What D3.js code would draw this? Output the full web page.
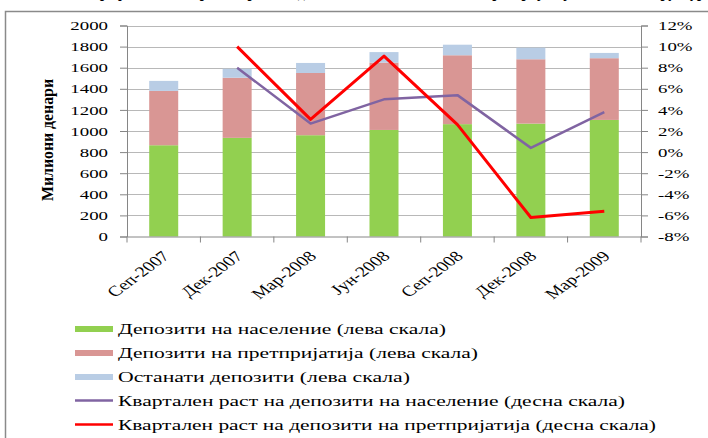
<!DOCTYPE html>
<html><head><meta charset="utf-8">
<script src="https://cdn.jsdelivr.net/npm/d3@7"></script>
<style>
body{margin:0;background:#fff}
svg{display:block}
text{font-family:"Liberation Serif","Times New Roman",serif;fill:#000}
</style>
</head><body>
<svg id="c" width="708" height="438"></svg>
<script>
const categories = ["Сеп-2007","Дек-2007","Мар-2008","Јун-2008","Сеп-2008","Дек-2008","Мар-2009"];
const households = [865, 935, 960, 1010, 1065, 1070, 1105];
const enterprises = [515, 570, 590, 638, 653, 610, 585];
const otherDeposits = [95, 85, 95, 100, 100, 110, 50];
const householdGrowth = [null, 8.0, 2.7, 5.0, 5.4, 0.4, 3.8];
const enterpriseGrowth = [null, 10.0, 3.1, 9.1, 2.6, -6.2, -5.6];
const leftTicks = d3.range(0, 2001, 200);
const rightTicks = d3.range(-8, 13, 2);
const legendLabels = [
  "Депозити на население (лева скала)",
  "Депозити на претпријатија (лева скала)",
  "Останати депозити (лева скала)",
  "Квартален раст на депозити на население (десна скала)",
  "Квартален раст на депозити на претпријатија (десна скала)"
];
const titleText = "Графикон 6: Квартален раст на депозитите на населението и претпријатијата и нивна структура";

const colors = {green:"#92D050", pink:"#D99694", blue:"#B9CDE5", purple:"#8064A2", red:"#FF0000"};
const SX = 1.45;

const svg = d3.select("#c");
const L = 127, R = 641, T = 25.5, B = 236.5;

// frame
svg.append("rect").attr("x",5.5).attr("y",11.5).attr("width",720).attr("height",440)
  .attr("fill","none").attr("stroke","#8a8a8a").attr("stroke-width",1.5);

// clipped title (cut off at top edge, as in the source)
svg.append("text").attr("x",712).attr("y",-3).attr("text-anchor","end")
  .attr("font-size",19).attr("font-weight","bold").attr("textLength",620)
  .attr("lengthAdjust","spacingAndGlyphs").text(titleText);

const x = d3.scaleBand().domain(categories).range([L,R]).paddingInner(0.605).paddingOuter(0.3025);
const y = d3.scaleLinear().domain([0,2000]).range([B,T]);
const y2 = d3.scaleLinear().domain([-8,12]).range([B,T]);

// gridlines
svg.append("g").selectAll("line").data(leftTicks.slice(1)).join("line")
  .attr("x1",L).attr("x2",R).attr("y1",d=>Math.round(y(d))+0.5).attr("y2",d=>Math.round(y(d))+0.5)
  .attr("stroke","#b8b8b8").attr("stroke-width",1);

// bars
const rows = categories.map((c,i)=>({cat:c, h:households[i], e:enterprises[i], o:otherDeposits[i]}));
const stack = d3.stack().keys(["h","e","o"])(rows);
const fill = {h:colors.green, e:colors.pink, o:colors.blue};
svg.append("g").selectAll("g").data(stack).join("g").attr("fill",d=>fill[d.key])
  .selectAll("rect").data(d=>d).join("rect")
  .attr("x",d=>x(d.data.cat)).attr("width",x.bandwidth())
  .attr("y",d=>y(d[1])).attr("height",d=>y(d[0])-y(d[1]));

// axes
function styleAxis(g){
  g.select(".domain").attr("stroke","#868686");
  g.selectAll(".tick line").attr("stroke","#868686");
}
const yAxis = svg.append("g").attr("transform",`translate(${L},0)`)
  .call(d3.axisLeft(y).tickValues(leftTicks).tickSizeOuter(0).tickSize(7).tickFormat(d3.format("d")));
styleAxis(yAxis);
yAxis.selectAll("text").attr("font-size",13).attr("font-family","Liberation Serif")
  .attr("x",-19/SX).attr("transform",`scale(${SX},1)`).attr("fill","#000");

const y2Axis = svg.append("g").attr("transform",`translate(${R},0)`)
  .call(d3.axisRight(y2).tickValues(rightTicks).tickSizeOuter(0).tickSize(7).tickFormat(d=>d+"%"));
styleAxis(y2Axis);
y2Axis.selectAll("text").attr("font-size",13).attr("font-family","Liberation Serif")
  .attr("x",17/SX).attr("transform",`scale(${SX},1)`).attr("fill","#000");

const xAxis = svg.append("g").attr("transform",`translate(0,${B})`)
  .call(d3.axisBottom(x).tickSize(0).tickSizeOuter(0));
styleAxis(xAxis);
xAxis.attr("text-anchor",null);
xAxis.selectAll(".tick line").remove();
// category boundary ticks
const bounds = d3.range(categories.length+1).map(i=>L + i*x.step());
xAxis.selectAll(".btick").data(bounds).join("line").attr("class","btick")
  .attr("x1",d=>d).attr("x2",d=>d).attr("y1",0).attr("y2",6).attr("stroke","#868686");
xAxis.selectAll(".tick text")
  .attr("font-size",14.5).attr("font-family","Liberation Serif").attr("fill","#000")
  .style("text-anchor","end").attr("x",0).attr("y",0).attr("dy","0.35em")
  .attr("transform",`translate(2,17) scale(1.36,1) rotate(-45)`);

// lines
const cx = c => x(c) + x.bandwidth()/2;
const lineGen = vals => d3.line().defined((d,i)=>vals[i]!==null)
  .x((d,i)=>cx(categories[i])).y((d,i)=>y2(vals[i]))(vals);
svg.append("path").attr("d",lineGen(householdGrowth)).attr("fill","none")
  .attr("stroke",colors.purple).attr("stroke-width",2.5).attr("stroke-linejoin","round");
svg.append("path").attr("d",lineGen(enterpriseGrowth)).attr("fill","none")
  .attr("stroke",colors.red).attr("stroke-width",3).attr("stroke-linejoin","round");

// y title
svg.append("text").attr("transform",`translate(47,140) scale(1.35,1) rotate(-90)`)
  .attr("text-anchor","middle").attr("dy","0.35em").attr("font-size",13).attr("font-weight","bold")
  .attr("textLength",122).attr("lengthAdjust","spacingAndGlyphs").text("Милиони денари");

// legend
const legendY = [329, 353, 377, 400.5, 424.5];
const legendEnds = [446, 478, 410, 625, 656];
const legendKinds = [["rect",colors.green],["rect",colors.pink],["rect",colors.blue],["line",colors.purple],["line",colors.red]];
const lg = svg.append("g");
legendLabels.forEach((lab,i)=>{
  const [kind,col] = legendKinds[i];
  if(kind==="rect") lg.append("rect").attr("x",75).attr("y",legendY[i]-3).attr("width",38).attr("height",6).attr("fill",col);
  else lg.append("line").attr("x1",75).attr("x2",113).attr("y1",legendY[i]).attr("y2",legendY[i]).attr("stroke",col).attr("stroke-width",2.5);
  lg.append("text").attr("x",118).attr("y",legendY[i]+5).attr("font-size",15)
    .attr("textLength",legendEnds[i]-118).attr("lengthAdjust","spacingAndGlyphs").text(lab);
});
</script>
</body></html>
